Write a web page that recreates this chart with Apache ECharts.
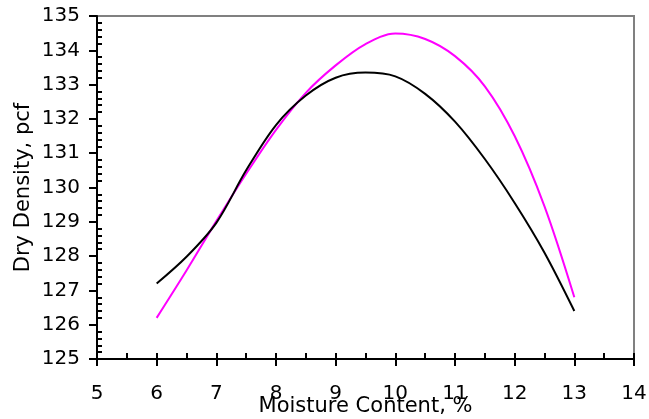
<!DOCTYPE html>
<html>
<head>
<meta charset="utf-8">
<script src="https://cdn.jsdelivr.net/npm/echarts@6/dist/echarts.min.js"></script>
<style>html,body{margin:0;padding:0;background:#fff}#c{width:649px;height:419px}</style>
</head>
<body>
<div id="c"></div>
<script>
var moisture = [6, 6.5, 7, 7.5, 8, 8.5, 9, 9.5, 10, 10.5, 11, 11.5, 12, 12.5, 13];
var densityBlack = [127.2, 127.98, 128.97, 130.5, 131.82, 132.68, 133.2, 133.35, 133.24, 132.73, 131.92, 130.83, 129.55, 128.1, 126.4];
var densityMagenta = [126.2, 127.58, 129.02, 130.4, 131.68, 132.76, 133.56, 134.18, 134.49, 134.33, 133.83, 132.95, 131.5, 129.45, 126.8];
var xName = 'Moisture Content, %';
var yName = 'Dry Density, pcf';

function pairs(xs, ys) { return xs.map(function (x, i) { return [x, ys[i]]; }); }

var font = 'DejaVu Sans';
var chart = echarts.init(document.getElementById('c'));
chart.setOption({
  animation: false,
  backgroundColor: '#fff',
  grid: { left: 97, right: 15, top: 16, bottom: 60, outerBoundsMode: 'none', containLabel: false, show: true, borderColor: '#808080', borderWidth: 2, backgroundColor: 'transparent' },
  xAxis: [
    {
      type: 'value', min: 5, max: 14, interval: 1,
      name: xName, nameLocation: 'middle', nameGap: 37, nameMoveOverlap: false,
      nameTextStyle: { fontFamily: font, fontSize: 21, color: '#000' },
      axisLine: { show: true, lineStyle: { color: '#000', width: 2 } },
      axisTick: { show: true, inside: false, length: 7, lineStyle: { color: '#000', width: 2 } },
      axisLabel: { margin: 25, fontFamily: font, fontSize: 20, color: '#000' },
      splitLine: { show: false }
    },
    {
      type: 'value', min: 5, max: 14, interval: 1, position: 'bottom',
      axisLine: { show: false },
      axisTick: { show: true, inside: true, length: 6, lineStyle: { color: '#000', width: 2 } },
      minorTick: { show: true, splitNumber: 2, length: 6, lineStyle: { color: '#000', width: 2 } },
      axisLabel: { show: false },
      splitLine: { show: false }
    }
  ],
  yAxis: [
    {
      type: 'value', min: 125, max: 135, interval: 1,
      name: yName, nameLocation: 'middle', nameGap: 63, nameMoveOverlap: false,
      nameTextStyle: { fontFamily: font, fontSize: 21, color: '#000' },
      axisLine: { show: true, lineStyle: { color: '#000', width: 2 } },
      axisTick: { show: true, inside: false, length: 8, lineStyle: { color: '#000', width: 2 } },
      axisLabel: { margin: 17, fontFamily: font, fontSize: 20, color: '#000' },
      splitLine: { show: false }
    },
    {
      type: 'value', min: 125, max: 135, interval: 1, position: 'left',
      axisLine: { show: false },
      axisTick: { show: false, inside: true, length: 5 },
      minorTick: { show: true, splitNumber: 5, length: 5, lineStyle: { color: '#000', width: 2 } },
      axisLabel: { show: false },
      splitLine: { show: false }
    }
  ],
  series: [
    {
      type: 'line', xAxisIndex: 0, yAxisIndex: 0, data: pairs(moisture, densityBlack),
      smooth: 0.33, showSymbol: false, lineStyle: { color: '#000', width: 2 }, z: 3
    },
    {
      type: 'line', xAxisIndex: 0, yAxisIndex: 0, data: pairs(moisture, densityMagenta),
      smooth: 0.33, showSymbol: false, lineStyle: { color: '#ff00ff', width: 2 }, z: 2
    }
  ]
});
</script>
</body>
</html>
